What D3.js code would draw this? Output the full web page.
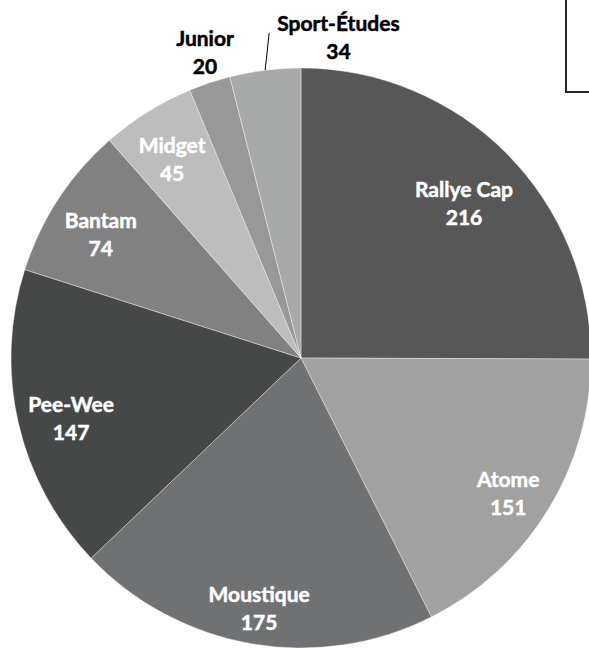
<!DOCTYPE html>
<html>
<head>
<meta charset="utf-8">
<script src="https://cdn.jsdelivr.net/npm/d3@7"></script>
<style>
  body { margin: 0; background: #fff; }
  svg { display: block; }
</style>
</head>
<body>
<div class="chart"></div>
<script>
const categories = ["Rallye Cap", "Atome", "Moustique", "Pee-Wee", "Bantam", "Midget", "Junior", "Sport-Études"];
const values = [216, 151, 175, 147, 74, 45, 20, 34];
const sliceColors = ["#575757", "#a1a1a1", "#707173", "#464747", "#818181", "#bdbdbd", "#989898", "#a8a9a9"];
const outsideLabels = ["Junior", "Sport-Études"];

const width = 589, height = 648;
const cx = 301, cy = 358, radius = 290;
const lineGap = 28;

const data = categories.map((name, i) => ({ name, value: values[i] }));

const svg = d3.select(".chart").append("svg")
  .attr("width", width)
  .attr("height", height);

// legend frame, cut off by the right edge
svg.append("rect")
  .attr("x", 566).attr("y", -10)
  .attr("width", 60).attr("height", 102)
  .attr("fill", "none")
  .attr("stroke", "#262626")
  .attr("stroke-width", 2);

const g = svg.append("g").attr("transform", `translate(${cx},${cy})`);

const pie = d3.pie().sort(null).value((d) => d.value);
const arc = d3.arc().innerRadius(0).outerRadius(radius);
const color = d3.scaleOrdinal().domain(categories).range(sliceColors);
const arcs = pie(data);

g.selectAll("path.slice")
  .data(arcs)
  .enter()
  .append("path")
  .attr("class", "slice")
  .attr("d", arc)
  .attr("fill", (d) => color(d.data.name))
  .attr("stroke", "#fff")
  .attr("stroke-opacity", 0.5)
  .attr("stroke-width", 0.75);

function polar(angle, r) {
  return [Math.sin(angle) * r, -Math.cos(angle) * r];
}

function addLabel(d, fill) {
  const lg = g.append("g");
  const t = lg.append("text")
    .attr("text-anchor", "middle")
    .attr("font-family", "Lato, sans-serif")
    .attr("font-weight", 700)
    .attr("font-size", "21px")
    .attr("fill", fill)
    .attr("stroke", fill)
    .attr("stroke-width", 0.5);
  t.append("tspan").attr("x", 0).attr("y", 0).text(d.data.name);
  t.append("tspan").attr("x", 0).attr("y", lineGap).text(d.data.value);
  return lg;
}

arcs.forEach((d) => {
  const mid = (d.startAngle + d.endAngle) / 2;

  if (!outsideLabels.includes(d.data.name)) {
    // push the label out until its box nearly touches the rim
    const lg = addLabel(d, "#fff");
    const b = lg.node().getBBox();
    const bx = b.x + b.width / 2, by = b.y + b.height / 2;
    let lo = 0, hi = radius;
    for (let k = 0; k < 40; k++) {
      const t = (lo + hi) / 2;
      const [px, py] = polar(mid, t);
      const far = d3.max([-1, 1], (sx) =>
        d3.max([-1, 1], (sy) => Math.hypot(px + sx * b.width / 2, py + sy * b.height / 2))
      );
      if (far < radius - 6) lo = t; else hi = t;
    }
    const [px, py] = polar(mid, lo);
    lg.attr("transform", `translate(${px - bx},${py - by + 7})`);
    return;
  }

  const lg = addLabel(d, "#000");
  const b = lg.node().getBBox();
  const bx = b.x + b.width / 2, by = b.y + b.height / 2;

  if (d.data.name === "Junior") {
    const [px, py] = polar(mid, radius * 1.115);
    lg.attr("transform", `translate(${px - bx + 6},${py - by})`);
  } else {
    // leader line, label set off to the right
    const start = polar(mid, radius);
    const top = polar(mid, radius * 1.14);
    const end = [start[0] + 4, top[1] + 3];
    g.append("line")
      .attr("x1", start[0]).attr("y1", start[1])
      .attr("x2", end[0]).attr("y2", end[1])
      .attr("stroke", "#000")
      .attr("stroke-width", 1);
    lg.attr("transform", `translate(${end[0] + 8 + b.width / 2 - bx},${end[1] + 4 - by})`);
  }
});
</script>
</body>
</html>
